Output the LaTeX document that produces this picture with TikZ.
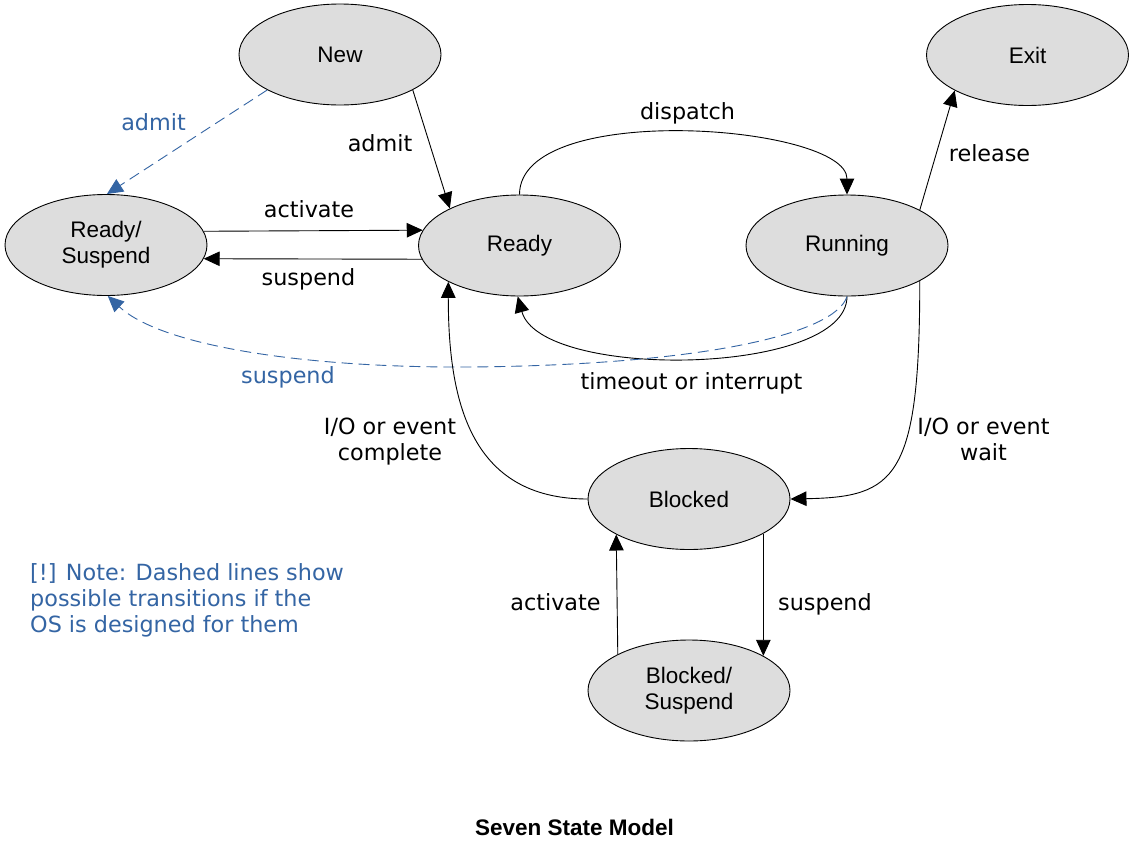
\documentclass[tikz,border=0pt]{standalone}
\usepackage{fontspec}
\setmainfont{Liberation Sans}
\newfontfamily\labelfont{DejaVu Sans}
\usetikzlibrary{arrows.meta,shapes.geometric}
\definecolor{dashblue}{HTML}{3465A4}
\definecolor{stategray}{HTML}{DDDDDD}
\begin{document}
\begin{tikzpicture}[x=1pt,y=-1pt,
  state/.style={ellipse, draw=black, line width=0.9pt, fill=stategray,
    minimum width=202pt, minimum height=101pt, inner sep=0pt, align=center,
    font=\fontsize{22.5}{26}\selectfont},
  trans/.style={draw=black, line width=0.9pt, -{Triangle[length=16pt,width=14.5pt]}},
  opt/.style={draw=dashblue, line width=0.9pt, dash pattern=on 11pt off 6pt,
    -{Triangle[length=16pt,width=14.5pt,fill=dashblue]}},
  lbl/.style={font=\labelfont\fontsize{22.3}{26}\selectfont, text=black, align=center, inner sep=0pt},
  bluelbl/.style={lbl, text=dashblue}]
\fill[white] (0,0) rectangle (1133,841);
\useasboundingbox (0,0) rectangle (1133,841);

% states
\node[state] (new) at (340,54.5) {New};
\node[state] (exit) at (1027.5,55) {Exit};
\node[state] (rs) at (106,245) {Ready/\\Suspend};
\node[state] (ready) at (519.5,245.5) {Ready};
\node[state] (running) at (847,245.5) {Running};
\node[state] (blocked) at (689,499) {Blocked};
\node[state] (bs) at (689,690.5) {Blocked/\\Suspend};

% transitions
\draw[trans] (new.-26.6) -- (ready.152.3);
\draw[opt] (new.206.6) -- (rs.89);
\draw[trans] (rs.8.5) -- (ready.171.5);
\draw[trans] (ready.188.5) -- (rs.-8.5);
\draw[trans] (ready.north) .. controls +(0,-95) and +(0,-70) .. (running.north);
\draw[trans] (running.south) .. controls +(0,80) and +(23,84) .. (ready.-92);
\draw[opt] (running.south) .. controls +(-12,38) and (700,365) .. (470,367)
   .. controls (300,368) and (160,345) .. (rs.-88);
\draw[trans] (running.26.2) -- (exit.206.4);
\draw[trans] (running.-26.9) .. controls +(0,198) and +(105,-2) .. (blocked.east);
\draw[trans] (blocked.west) .. controls +(-118,0) and +(0,118) .. (ready.207);
\draw[trans] (blocked.-25.9) -- (bs.25.9);
\draw[trans] (bs.153.4) -- (blocked.206.6);

% labels
\node[lbl, anchor=base] (lAdmit) at (380,151) {admit};
\node[bluelbl, anchor=base] (lAdmitS) at (153.5,130) {admit};
\node[lbl, anchor=base] (lAct) at (309,217.5) {activate};
\node[lbl, anchor=base] (lSus) at (308.5,285.7) {suspend};
\node[lbl, anchor=base] (lDisp) at (687.5,119.3) {dispatch};
\node[lbl, anchor=base] (lRel) at (989.5,161.7) {release};
\node[lbl, anchor=base] (lTime) at (691.5,389) {timeout or interrupt};
\node[bluelbl, anchor=base] (lSusS) at (288,383) {suspend};
\node[lbl] (lComp) at (390,441.5) {I/O or event\\complete};
\node[lbl] (lWait) at (983.5,439) {I/O or event\\wait};
\node[lbl, anchor=base] (lAct2) at (555.5,610.7) {activate};
\node[lbl, anchor=base] (lSus2) at (825,610.7) {suspend};
\node[bluelbl, align=left, anchor=west] (note) at (30,600)
  {[!] Note: Dashed lines show\\possible transitions if the\\OS is designed for them};
\node[font=\bfseries\fontsize{22.5}{26}\selectfont, inner sep=0pt, anchor=base] (title)
  at (574.5,835) {Seven State Model};
\end{tikzpicture}
\end{document}
